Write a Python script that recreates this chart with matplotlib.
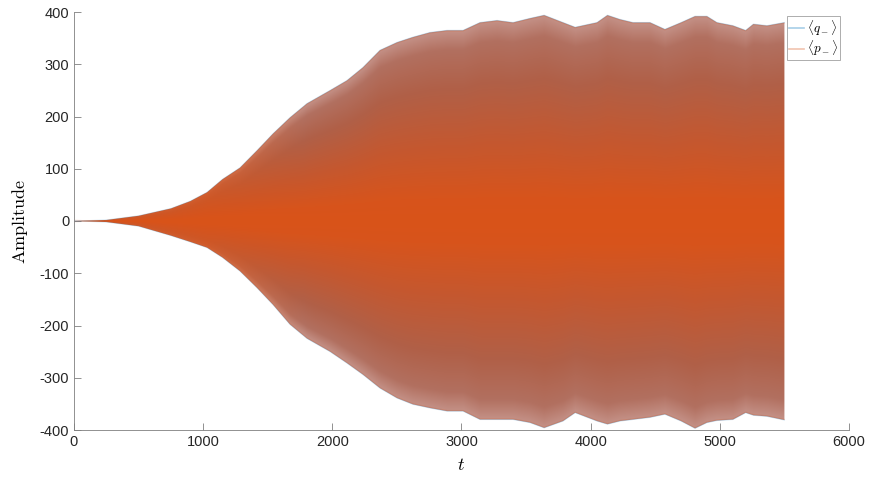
import numpy as np
import matplotlib.pyplot as plt

plt.rcParams['mathtext.fontset'] = 'cm'
plt.rcParams['font.family'] = ['Liberation Sans', 'DejaVu Sans']
plt.rcParams['axes.unicode_minus'] = False

############################################################
# Envelope of the oscillation
t = [0, 250, 500, 750, 900, 1030, 1150, 1285, 1417, 1540, 1672, 1804,
     1982, 2113, 2237, 2369, 2501, 2624, 2756, 2888, 3012, 3143, 3275,
     3399, 3530, 3640, 3786, 3880, 4049, 4130, 4227, 4328, 4460, 4575,
     4700, 4808, 4900, 4978, 5102, 5200, 5260, 5365, 5500]
upper = [0, 2, 10, 24, 38, 55, 80, 102, 135, 167, 198, 225,
         250, 269, 294, 327, 342, 352, 361, 365, 365, 380, 384,
         380, 388, 394, 380, 371, 380, 394, 386, 380, 380, 367,
         380, 392, 392, 380, 374, 365, 377, 374, 380]
lower = [0, -2, -10, -28, -40, -51, -70, -96, -128, -160, -198, -225,
         -250, -272, -294, -320, -339, -351, -358, -364, -364, -380, -380,
         -380, -386, -396, -383, -367, -383, -389, -383, -380, -376, -370,
         -383, -397, -386, -382, -380, -367, -372, -374, -381]

labels = [r'$\langle q_-\rangle$', r'$\langle p_-\rangle$']
c_blue = (0.0, 0.447, 0.741)
c_orange = (0.85, 0.325, 0.098)

fig = plt.figure(figsize=(8.7, 4.78), dpi=100)
ax = fig.add_axes([74/870, 1-430/478, 775/870, 418/478])

############################################################
# Band shading: orange in the middle, brownish towards the edges
tg = np.linspace(0, 5500, 1101)
yg = np.linspace(-400, 400, 801)
T, Y = np.meshgrid(tg, yg)
eu = np.interp(T, t, upper)
el = -np.interp(T, t, lower)
r = np.where(Y >= 0, Y/np.maximum(eu, 1e-3), -Y/np.maximum(el, 1e-3))
r = np.clip(r, 0, 1)
grow = np.clip(np.maximum(eu, el)/220.0, 0.25, 1.0)

stops_r = [0.0, 0.12, 0.4, 0.7, 0.9, 1.0]
stops_c = np.array([(217, 83, 25), (215, 84, 28), (196, 88, 48),
                    (176, 96, 72), (178, 112, 96), (196, 145, 135)])/255.0
img = np.zeros(T.shape + (3,))
for k in range(3):
    full = np.interp(r, stops_r, stops_c[:, k])
    img[..., k] = stops_c[0, k] + (full - stops_c[0, k])*grow

band = ax.fill_between(t, lower, upper, facecolor='none', edgecolor='none')
im = ax.imshow(img, extent=[0, 5500, -400, 400], origin='lower',
               aspect='auto', interpolation='bilinear', zorder=1)
im.set_clip_path(band.get_paths()[0], transform=ax.transData)

# thin edge fringes of the two curves
ax.plot(t, upper, color=c_blue, alpha=0.2, lw=0.7, zorder=2)
ax.plot(t, lower, color=c_blue, alpha=0.2, lw=0.7, zorder=2)
ax.plot(t, np.array(upper)-1.5, color=c_orange, alpha=0.2, lw=0.7, zorder=2)
ax.plot(t, np.array(lower)+1.5, color=c_orange, alpha=0.2, lw=0.7, zorder=2)

# legend handles
h1, = ax.plot([], [], color=c_blue, alpha=0.35, lw=1.2)
h2, = ax.plot([], [], color=c_orange, alpha=0.35, lw=1.2)
leg = ax.legend([h1, h2], labels, loc='upper right',
                bbox_to_anchor=(0.9884, 0.9904), fontsize=9.5,
                fancybox=False, framealpha=1, edgecolor='#a0a0a0',
                handlelength=1.2, handletextpad=0.2, borderpad=0.15,
                labelspacing=0.05, borderaxespad=0)
leg.get_frame().set_linewidth(0.6)

############################################################
# Axes in MATLAB style
ax.set_xlim(0, 6000)
ax.set_ylim(-400, 400)
ax.set_xticks(np.arange(0, 6001, 1000))
ax.set_yticks(np.arange(-400, 401, 100))
ax.tick_params(direction='in', length=5, width=0.6, colors='#7f7f7f',
               labelcolor='#262626', labelsize=10.5)
for s in ['top', 'right']:
    ax.spines[s].set_visible(False)
for s in ['left', 'bottom']:
    ax.spines[s].set_color('#7f7f7f')
    ax.spines[s].set_linewidth(0.6)

ax.set_xlabel(r'$t$', fontsize=13, labelpad=6)
ax.set_ylabel(r'$\mathrm{Amplitude}$', fontsize=13, labelpad=7)

fig.savefig('out.png', dpi=100)
